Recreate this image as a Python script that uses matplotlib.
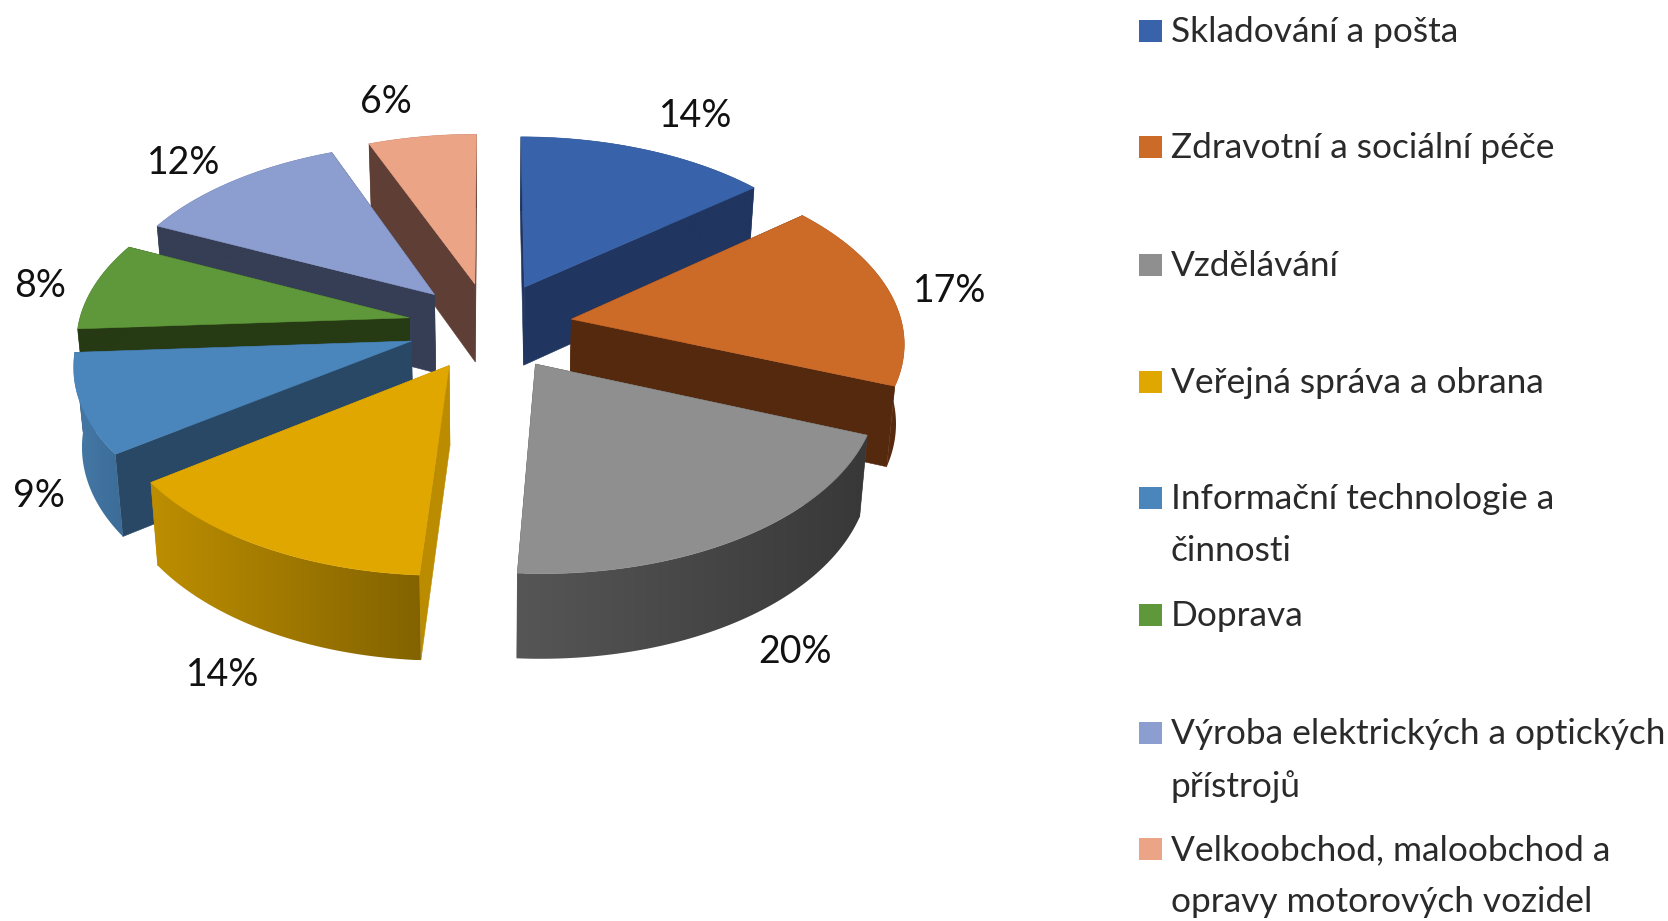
import numpy as np
import matplotlib
matplotlib.use("Agg")
import matplotlib.pyplot as plt
from matplotlib.colors import LinearSegmentedColormap
from matplotlib.patches import Polygon, Rectangle

# --- data ---
categories = ["Skladování a pošta", "Zdravotní a sociální péče", "Vzdělávání",
              "Veřejná správa a obrana", "Informační technologie a\nčinnosti", "Doprava",
              "Výroba elektrických a optických\npřístrojů",
              "Velkoobchod, maloobchod a\nopravy motorových vozidel"]
shares = [14, 17, 20, 14, 9, 8, 12, 6]
top_colors = ["#3862a9", "#cc6a28", "#8f8f8f", "#e0a700", "#4a86bb", "#5f973b", "#8c9dd0", "#eca487"]
face_colors = ["#20355f", "#55290e", "#4a4a4a", "#bb8c00", "#284866", "#263a14", "#353e54", "#5f3f35"]
wall_left = ["#20355f", "#6a3410", "#565656", "#bd8e00", "#4679a8", "#263a14", "#353e54", "#5f3f35"]
wall_right = ["#20355f", "#55290e", "#383838", "#836300", "#3c6c97", "#263a14", "#353e54", "#5f3f35"]

# --- layout (pixels of the 1668x921 figure) ---
CX, CY, RX, RY, PERSP, EXPLODE, DEPTH = 490, 326, 331, 176, 0.115, 0.25, 79
BOTTOM_SHRINK = 0.02
label_xy = [(696, 116), (950, 291), (795, 652), (223, 675), (39, 496), (40, 286), (184, 163), (386, 102)]
legend_row_y = [31, 147, 265, 382, 498, 615, 733, 849]
FONT = "Lato"

fig = plt.figure(figsize=(16.68, 9.21), dpi=100, facecolor="white")
ax = fig.add_axes([0, 0, 1, 1])


def project(X, Y, lower=False):
    s = 1 / (1 + PERSP * Y)
    if lower:
        return (CX + RX * X * s * (1 - BOTTOM_SHRINK),
                CY - RY * Y * s + DEPTH * np.sqrt(s))
    return CX + RX * X * s, CY - RY * Y * s


def flat(pts, color, z):
    p = Polygon(pts, closed=True, facecolor=color, edgecolor=color, lw=0.4, zorder=z)
    ax.add_patch(p)
    return p


frac = np.array(shares, float) / sum(shares)
edges = np.concatenate([[0], np.cumsum(frac)]) * 2 * np.pi
mids = (edges[:-1] + edges[1:]) / 2
order = np.argsort(-np.cos(mids))  # back to front

for rank, i in enumerate(order):
    z = 2 + rank
    t = np.linspace(edges[i], edges[i + 1], 80)
    ox, oy = EXPLODE * np.sin(mids[i]), EXPLODE * np.cos(mids[i])
    rimX, rimY = ox + np.sin(t), oy + np.cos(t)

    # radial cut faces
    for k in (0, -1):
        flat([project(ox, oy), project(rimX[k], rimY[k]),
              project(rimX[k], rimY[k], True), project(ox, oy, True)], face_colors[i], z)

    # outer wall with a horizontal colour gradient, clipped to the wall outline
    upper = np.column_stack(project(rimX, rimY))
    lower = np.column_stack(project(rimX, rimY, True))
    outline = np.vstack([upper, lower[::-1]])
    clip = Polygon(outline, closed=True, facecolor="none", edgecolor="none",
                   transform=ax.transData)
    ax.add_patch(clip)
    cmap = LinearSegmentedColormap.from_list("w", [wall_left[i], wall_right[i]])
    im = ax.imshow(np.linspace(0, 1, 256)[None, :], cmap=cmap, aspect="auto", zorder=z + 0.2,
                   extent=(outline[:, 0].min(), outline[:, 0].max(),
                           outline[:, 1].max(), outline[:, 1].min()))
    im.set_clip_path(clip)

    # top surface
    top = [project(ox, oy)] + [tuple(p) for p in upper]
    flat(top, top_colors[i], z + 0.5)

for share, (x, y) in zip(shares, label_xy):
    ax.text(x, y, f"{share}%", ha="center", va="center", fontsize=27, family=FONT,
            color="#111111", zorder=50)

for name, color, y in zip(categories, top_colors, legend_row_y):
    ax.add_patch(Rectangle((1139, y - 11), 23, 22, facecolor=color, edgecolor="none", zorder=50))
    ax.text(1171, y - 15, name, ha="left", va="top", fontsize=25.4, family=FONT,
            color="#2a2a2a", linespacing=1.75, zorder=50)

ax.set_xlim(0, 1668)
ax.set_ylim(921, 0)
ax.axis("off")
fig.savefig("out.png", dpi=100, facecolor="white")
